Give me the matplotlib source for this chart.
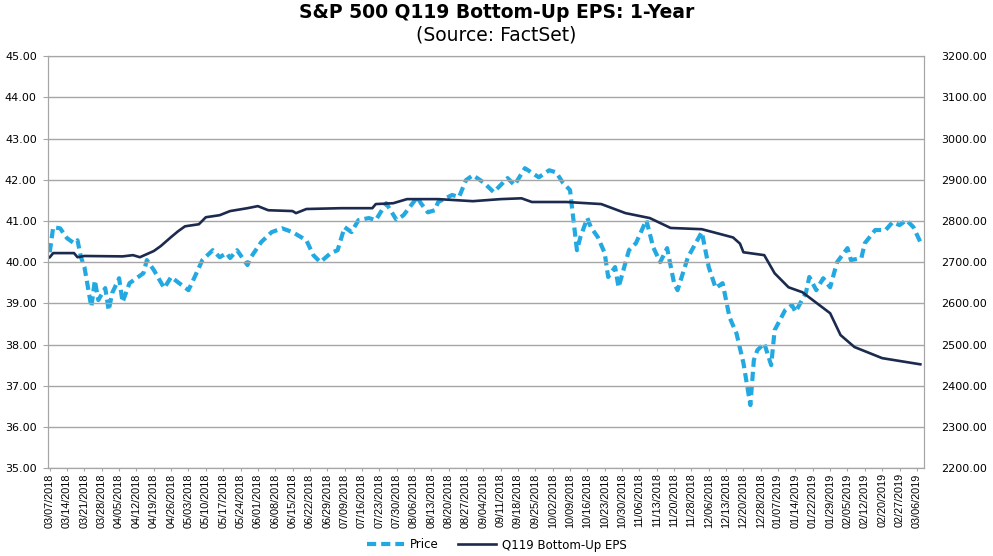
import matplotlib
matplotlib.use("Agg")
import matplotlib.pyplot as plt
import numpy as np

plt.rcParams['font.family'] = ['DejaVu Sans']

# x axis labels, one every 5 trading days
date_labels = ["03/07/2018", "03/14/2018", "03/21/2018", "03/28/2018", "04/05/2018",
               "04/12/2018", "04/19/2018", "04/26/2018", "05/03/2018", "05/10/2018",
               "05/17/2018", "05/24/2018", "06/01/2018", "06/08/2018", "06/15/2018",
               "06/22/2018", "06/29/2018", "07/09/2018", "07/16/2018", "07/23/2018",
               "07/30/2018", "08/06/2018", "08/13/2018", "08/20/2018", "08/27/2018",
               "09/04/2018", "09/11/2018", "09/18/2018", "09/25/2018", "10/02/2018",
               "10/09/2018", "10/16/2018", "10/23/2018", "10/30/2018", "11/06/2018",
               "11/13/2018", "11/20/2018", "11/28/2018", "12/06/2018", "12/13/2018",
               "12/20/2018", "12/28/2018", "01/07/2019", "01/14/2019", "01/22/2019",
               "01/29/2019", "02/05/2019", "02/12/2019", "02/20/2019", "02/27/2019",
               "03/06/2019"]

# S&P 500 price (right axis), trading-day index -> level
price_day = [0, 1, 3, 5, 7, 8, 9, 10, 12, 13, 14, 16, 17, 18, 20, 21, 23, 25, 27, 28,
             30, 33, 35, 37, 40, 42, 44, 47, 49, 51, 52, 54, 57, 58, 61, 64, 67, 70, 74, 76,
             78, 81, 83, 85, 87, 89, 92, 94, 97, 100, 102, 106, 107, 109, 111, 112, 116, 118, 120, 122,
             125, 128, 130, 132, 134, 137, 141, 144, 146, 148, 150, 151, 152, 153, 155, 156, 158, 160, 161, 163,
             164, 167, 169, 172, 174, 176, 178, 180, 181, 184, 188, 190, 192, 194, 196, 198, 200, 202, 203, 204,
             206, 208, 209, 212, 214, 215, 218, 219, 221, 223, 225, 227, 230, 231, 234, 235, 238, 241, 243, 245,
             247, 249, 251]
price = [2724, 2785, 2782, 2758, 2746, 2753, 2712, 2688, 2591, 2656, 2608, 2637, 2583, 2625, 2661, 2603, 2649, 2661, 2673, 2705,
         2681, 2637, 2664, 2651, 2632, 2668, 2705, 2729, 2712, 2722, 2710, 2729, 2693, 2712, 2749, 2773, 2782, 2773, 2753, 2717,
         2700, 2722, 2729, 2785, 2773, 2802, 2807, 2802, 2843, 2802, 2814, 2858, 2843, 2821, 2826, 2846, 2863, 2858, 2899, 2911,
         2894, 2870, 2887, 2904, 2887, 2928, 2906, 2923, 2918, 2892, 2875, 2802, 2729, 2761, 2807, 2785, 2761, 2722, 2664, 2688,
         2639, 2729, 2746, 2802, 2736, 2700, 2734, 2649, 2632, 2712, 2773, 2688, 2637, 2649, 2566, 2527, 2455, 2353, 2462, 2486,
         2503, 2450, 2535, 2583, 2596, 2579, 2625, 2664, 2632, 2661, 2639, 2700, 2734, 2705, 2710, 2746, 2778, 2778, 2797, 2790,
         2802, 2785, 2749]

# Q119 bottom-up EPS (left axis)
eps_day = [0, 1, 7, 8, 10, 21, 24, 26, 30, 32, 35, 37, 39, 43, 45, 49, 52, 57, 60, 63,
           70, 71, 74, 84, 93, 94, 99, 103, 112, 122, 130, 136, 139, 149, 159, 166, 173, 179, 188, 197,
           199, 200, 206, 209, 213, 217, 225, 228, 232, 240, 251]
eps = [40.12, 40.22, 40.22, 40.12, 40.15, 40.14, 40.17, 40.12, 40.27, 40.39, 40.61, 40.75, 40.87, 40.92, 41.09, 41.14, 41.24, 41.31, 41.36, 41.26,
       41.24, 41.19, 41.29, 41.31, 41.31, 41.41, 41.43, 41.53, 41.53, 41.48, 41.53, 41.55, 41.46, 41.46, 41.41, 41.19, 41.07, 40.83, 40.80, 40.60,
       40.45, 40.24, 40.17, 39.73, 39.39, 39.27, 38.76, 38.23, 37.94, 37.67, 37.52]

eps_ticks = np.arange(35, 45.5, 1.0)
price_ticks = np.arange(2200, 3250, 100)

fig = plt.figure(figsize=(9.93, 5.56), dpi=100)
ax = fig.add_axes([0.048, 0.158, 0.883, 0.741])
ax2 = ax.twinx()

grid_c = '#a6a6a6'
ax.set_ylim(35, 45)
ax.set_yticks(eps_ticks)
ax.set_yticklabels([f"{v:.2f}" for v in eps_ticks], fontsize=8)
ax.yaxis.grid(True, color=grid_c, linewidth=1)
ax.set_axisbelow(True)

ax.set_xlim(-0.6, 252.2)
ax.set_xticks(np.arange(len(date_labels)) * 5)
ax.set_xticklabels(date_labels, rotation=90, fontsize=7.8, family='Liberation Sans')

ax2.set_ylim(2200, 3200)
ax2.set_yticks(price_ticks)
ax2.set_yticklabels([f"{v:.2f}" for v in price_ticks], fontsize=8)

for a in (ax, ax2):
    for s in a.spines.values():
        s.set_color(grid_c)
    a.tick_params(axis='both', colors=grid_c, labelcolor='black')
ax.tick_params(axis='y', length=3.6, pad=4.3)
ax.tick_params(axis='x', length=2.2, pad=1.5)
ax2.tick_params(axis='y', length=0, pad=12)

l1, = ax2.plot(price_day, price, color='#22a9e1', linewidth=3, linestyle=(0, (2.2, 1.2)),
               label='Price')
l2, = ax.plot(eps_day, eps, color='#1b2a4e', linewidth=1.9, label='Q119 Bottom-Up EPS')
ax.set_zorder(ax2.get_zorder() + 1)
ax.patch.set_visible(False)

fig.legend(handles=[l1, l2], loc='center', bbox_to_anchor=(0.5, 1 - 545 / 556), ncol=2,
           frameon=False, fontsize=8.5, handlelength=3.2, handletextpad=0.5, columnspacing=1.6)

fig.text(0.5, 1 - 12 / 556, "S&P 500 Q119 Bottom-Up EPS: 1-Year", ha='center', va='center',
         fontsize=13.5, fontweight='bold')
fig.text(0.5, 1 - 35 / 556, "(Source: FactSet)", ha='center', va='center', fontsize=13.5)

fig.savefig('out.png', dpi=100)
